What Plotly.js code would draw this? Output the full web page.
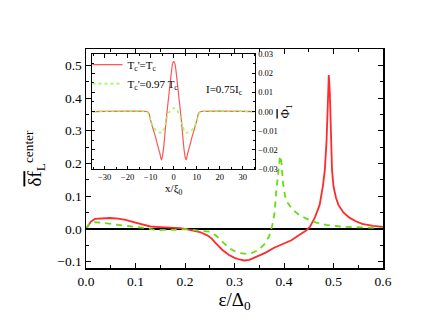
<!DOCTYPE html>
<html><head><meta charset="utf-8">
<script src="https://cdn.plot.ly/plotly-3.0.1.min.js"></script>
<style>body{margin:0;background:#fff}#c{width:432px;height:335px}</style>
</head><body><div id="c"></div>
<script>
// Main panel: red (T_c'=T_c) and green (T_c'=0.97T_c)
const redEps = [0, 0.005, 0.01, 0.018, 0.03, 0.048, 0.065, 0.08, 0.1, 0.115, 0.13, 0.15, 0.17, 0.19, 0.2, 0.215, 0.23, 0.245, 0.254, 0.262, 0.275, 0.289, 0.3, 0.31, 0.319, 0.33, 0.35, 0.363, 0.38, 0.4, 0.415, 0.43, 0.444, 0.452, 0.462, 0.472, 0.4785, 0.4825, 0.486, 0.4885, 0.4905, 0.4925, 0.495, 0.497, 0.5, 0.505, 0.51, 0.52, 0.532, 0.545, 0.558, 0.58, 0.6];
const redVal = [0, 0.012, 0.022, 0.03, 0.032, 0.033, 0.031, 0.027, 0.019, 0.012, 0.007, 0.005, 0.004, 0.002, 0, -0.004, -0.01, -0.02, -0.03, -0.044, -0.064, -0.08, -0.089, -0.094, -0.097, -0.095, -0.083, -0.073, -0.058, -0.045, -0.035, -0.02, -0.006, 0.005, 0.033, 0.073, 0.13, 0.18, 0.27, 0.38, 0.47, 0.42, 0.28, 0.18, 0.13, 0.095, 0.073, 0.05, 0.034, 0.023, 0.015, 0.009, 0.006];
const greenEps = [0, 0.004, 0.01, 0.018, 0.028, 0.045, 0.069, 0.09, 0.109, 0.125, 0.14, 0.16, 0.18, 0.2, 0.22, 0.25, 0.262, 0.275, 0.289, 0.3, 0.309, 0.32, 0.33, 0.34, 0.349, 0.36, 0.37, 0.376, 0.381, 0.384, 0.388, 0.391, 0.393, 0.395, 0.398, 0.402, 0.408, 0.418, 0.43, 0.445, 0.465, 0.485, 0.52, 0.56, 0.6];
const greenVal = [0, 0.01, 0.017, 0.02, 0.019, 0.016, 0.012, 0.008, 0.005, 0.001, -0.004, -0.004, -0.003, -0.001, -0.004, -0.009, -0.02, -0.04, -0.059, -0.068, -0.074, -0.076, -0.076, -0.071, -0.064, -0.048, -0.023, 0.008, 0.049, 0.109, 0.17, 0.21, 0.223, 0.2, 0.14, 0.1, 0.078, 0.058, 0.043, 0.031, 0.019, 0.012, 0.006, 0.003, 0.002];
// Inset
const insetX = [-35, -12, -11, -10.5, -10, -9, -8, -7, -6, -5.4, -5, -4.5, -4, -3.5, -2.9, -2, -1, -0.5, 0, 0.5, 1, 2, 2.9, 3.5, 4, 4.5, 5, 5.4, 6, 7, 8, 9, 10, 10.5, 11, 12, 35];
const insetRed = [0, 0, -0.0005, -0.002, -0.0048, -0.009, -0.013, -0.0177, -0.022, -0.0252, -0.024, -0.02, -0.014, -0.007, 0, 0.010, 0.021, 0.025, 0.0262, 0.025, 0.021, 0.010, 0, -0.007, -0.014, -0.02, -0.024, -0.0252, -0.022, -0.0177, -0.013, -0.009, -0.0048, -0.002, -0.0005, 0, 0];
const insetGreen = [0, 0, -0.001, -0.003, -0.005, -0.0078, -0.0095, -0.0105, -0.011, -0.0112, -0.011, -0.0098, -0.008, -0.006, -0.003, -0.0005, 0.0012, 0.0016, 0.0017, 0.0016, 0.0012, -0.0005, -0.003, -0.006, -0.008, -0.0098, -0.011, -0.0112, -0.011, -0.0105, -0.0095, -0.0078, -0.005, -0.003, -0.001, 0, 0];
const legendNames = ["T<sub>c</sub>'=T<sub>c</sub>", "T<sub>c</sub>'=0.97 T<sub>c</sub>"];
const xTitle = "ε/Δ<sub>0</sub>";
const yTitle = "<span style='text-decoration:overline'>δf</span><sub>L</sub><sup>center</sup>";
const insetXTitle = "x/ξ<sub>0</sub>";
const insetYTitle = "<span style='text-decoration:overline'>Φ</span><sub>1</sub>";
const noteText = "I=0.75I<sub>c</sub>";

const RED = '#ff2a2a', GREEN = '#66dd11', IRED = '#ff5555', IGREEN = '#99ff55';
const serif = 'Liberation Serif';

const traces = [
  {x: redEps, y: redVal, mode: 'lines', line: {color: RED, width: 1.8}, showlegend: false, xaxis: 'x', yaxis: 'y'},
  {x: greenEps, y: greenVal, mode: 'lines', line: {color: GREEN, width: 1.8, dash: '6px,5px'}, showlegend: false, xaxis: 'x', yaxis: 'y'},
  {x: insetX, y: insetRed, mode: 'lines', name: legendNames[0], line: {color: IRED, width: 1.2, shape: 'spline', smoothing: 0.6}, xaxis: 'x2', yaxis: 'y2'},
  {x: insetX, y: insetGreen, mode: 'lines', name: legendNames[1], line: {color: IGREEN, width: 1.6, dash: 'dot', shape: 'spline', smoothing: 0.6}, xaxis: 'x2', yaxis: 'y2'}
];

const axMain = {showline: true, linecolor: '#000', linewidth: 1.5, mirror: 'allticks', ticks: 'inside', ticklen: 5, tickwidth: 1, tickcolor: '#000', showgrid: false, zeroline: false, tickfont: {family: serif, size: 13.5, color: '#000'}};
const axIn = {showline: true, linecolor: '#000', linewidth: 1, mirror: 'allticks', ticks: 'inside', ticklen: 3.5, tickwidth: 1, tickcolor: '#000', showgrid: false, zeroline: false, tickfont: {family: serif, size: 8.5, color: '#000'}};

const layout = {
  width: 432, height: 335,
  margin: {l: 86, r: 49, t: 49, b: 67},
  paper_bgcolor: '#fff', plot_bgcolor: '#fff',
  font: {family: serif, color: '#000'},
  xaxis: Object.assign({}, axMain, {range: [0, 0.6], dtick: 0.1, tickformat: '.1f', minor: {ticks: 'inside', ticklen: 3, dtick: 0.05, tickcolor: '#000'},
    title: {text: xTitle, font: {family: serif, size: 19}, standoff: 4}}),
  yaxis: Object.assign({}, axMain, {range: [-0.12, 0.55], dtick: 0.1, tickformat: '.1f', minor: {ticks: 'inside', ticklen: 3, dtick: 0.05, tickcolor: '#000'},
    zeroline: true, zerolinecolor: '#000', zerolinewidth: 1.5,
    title: {text: yTitle, font: {family: serif, size: 19}, standoff: 10}}),
  xaxis2: Object.assign({}, axIn, {domain: [0.0202, 0.5707], anchor: 'y2', range: [-35.5, 35.5], dtick: 10, minor: {ticks: 'inside', ticklen: 2, dtick: 5, tickcolor: '#000'},
    title: {text: insetXTitle, font: {family: serif, size: 11}, standoff: 2}}),
  yaxis2: Object.assign({}, axIn, {domain: [0.452, 0.977], anchor: 'x2', side: 'right', range: [-0.03, 0.03], dtick: 0.01, tickformat: '.2f', minor: {ticks: 'inside', ticklen: 2, dtick: 0.005, tickcolor: '#000'},
    title: {text: insetYTitle, font: {family: serif, size: 13}, standoff: 3}}),
  legend: {x: 0.005, y: 0.995, xanchor: 'left', yanchor: 'top', bgcolor: 'rgba(0,0,0,0)', font: {family: serif, size: 11}, tracegroupgap: 0, itemwidth: 30},
  annotations: [{xref: 'paper', yref: 'paper', x: 0.468, y: 0.854, text: noteText, showarrow: false, font: {family: serif, size: 11}}]
};

Plotly.newPlot('c', traces, layout, {displayModeBar: false, staticPlot: true});
</script></body></html>
